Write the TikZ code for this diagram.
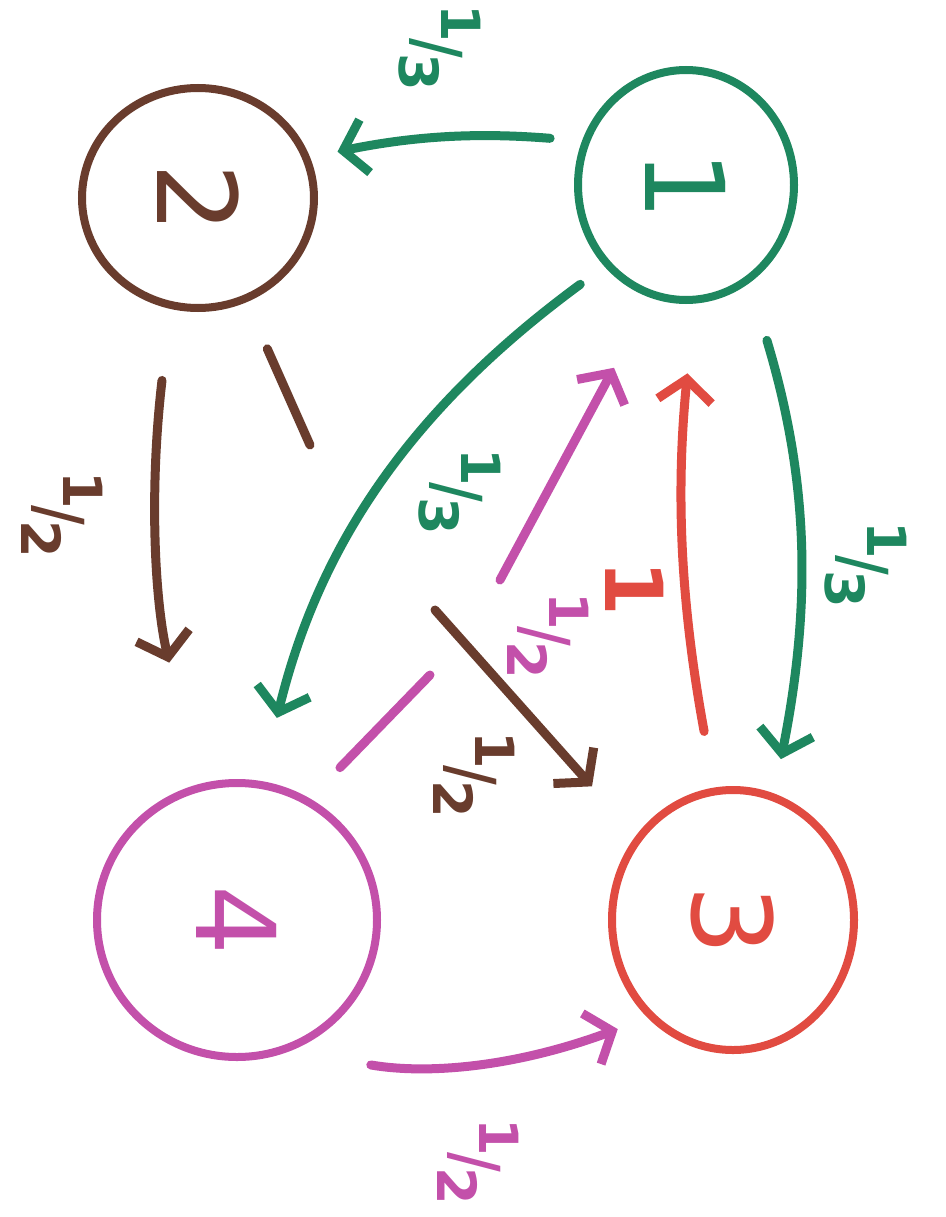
\documentclass[tikz,border=0pt]{standalone}
\usepackage{fontspec}
\setmainfont{DejaVu Sans}
\usetikzlibrary{arrows.meta,shapes.geometric}
\definecolor{colG}{RGB}{30,135,95}
\definecolor{colB}{RGB}{105,60,45}
\definecolor{colR}{RGB}{225,75,65}
\definecolor{colM}{RGB}{195,80,170}
\newcommand\myfr[2]{\raisebox{.48em}{#1}\kern-.08em{\scalebox{1}[1.2]{/}}\kern-.08em\raisebox{-.3em}{#2}}
\begin{document}
\begin{tikzpicture}[x=1pt,y=-1pt,
  state/.style={ellipse,draw,line width=8pt,inner sep=0pt},
  numtxt/.style={rotate=-90,font=\fontsize{110}{110}\selectfont},
  lbl/.style={rotate=-90,font=\fontsize{54}{54}\selectfont\bfseries},
  seg/.style={line width=9pt,line cap=round},
  conn/.style={seg,-{Straight Barb[length=22pt,width=54pt,line width=9pt]}}]
\useasboundingbox (0,0) rectangle (945,1217);
\fill[white] (0,0) rectangle (945,1217);
% nodes
\node[state,colG,minimum width=216pt,minimum height=230pt] (n1) at (686,185) {};
\node[state,colB,minimum width=232pt,minimum height=220pt] (n2) at (198,198) {};
\node[state,colR,minimum width=242pt,minimum height=260pt] (n3) at (733,920) {};
\node[state,colM,minimum width=280pt,minimum height=274pt] (n4) at (237,920) {};
\node[numtxt,text=colG] (t1) at (n1) {1};
\node[numtxt,text=colB] (t2) at (n2) {2};
\node[numtxt,text=colR] (t3) at (n3) {3};
\node[numtxt,text=colM] (t4) at (n4) {4};
% helper points for the broken connectors
\coordinate (g1) at (310,445);
\coordinate (g2) at (435,610);
\coordinate (h1) at (430,675);
\coordinate (h2) at (500,580);
% green edges
\draw[conn,colG,shorten <=32pt,shorten >=28pt] (n1.157) to[bend right=8] (n2.20);
\draw[conn,colG,shorten <=30pt,shorten >=65pt] (n1.225) to[bend right=20] (n4.80);
\draw[conn,colG,shorten <=60pt,shorten >=35pt] (n1.303) to[bend left=14] (n3.72);
% brown edges
\draw[conn,colB,shorten <=72pt,shorten >=125pt] (n2.256) to[bend right=10] (n4.106);
\draw[seg,colB,shorten <=51pt] (n2.295) -- (g1);
\draw[conn,colB,shorten >=66pt] (g2) -- (n3.139);
% magenta edges
\draw[seg,colM,shorten <=43pt] (n4.59) -- (h1);
\draw[conn,colM,shorten >=79pt] (h2) -- (n1.253);
\draw[conn,colM,shorten <=82pt,shorten >=32pt] (n4.292) to[bend right=15] (n3.229);
% red edge
\draw[conn,colR,shorten <=57pt,shorten >=70pt] (n3.98) to[bend left=8] (n1.274);
% labels
\node[lbl,text=colG] (l12) at (440,48) {\myfr13};
\node[lbl,text=colG] (l14) at (460,492) {\myfr13};
\node[lbl,text=colG] (l13) at (866,565) {\myfr13};
\node[lbl,text=colB] (l24) at (62,515) {\myfr12};
\node[lbl,text=colB] (l23) at (474,775) {\myfr12};
\node[lbl,text=colM] (l41) at (548,636) {\myfr12};
\node[lbl,text=colM] (l43) at (478,1162) {\myfr12};
\node[lbl,text=colR,font=\fontsize{80}{80}\selectfont\bfseries] (l31) at (635,588) {1};
\end{tikzpicture}
\end{document}
